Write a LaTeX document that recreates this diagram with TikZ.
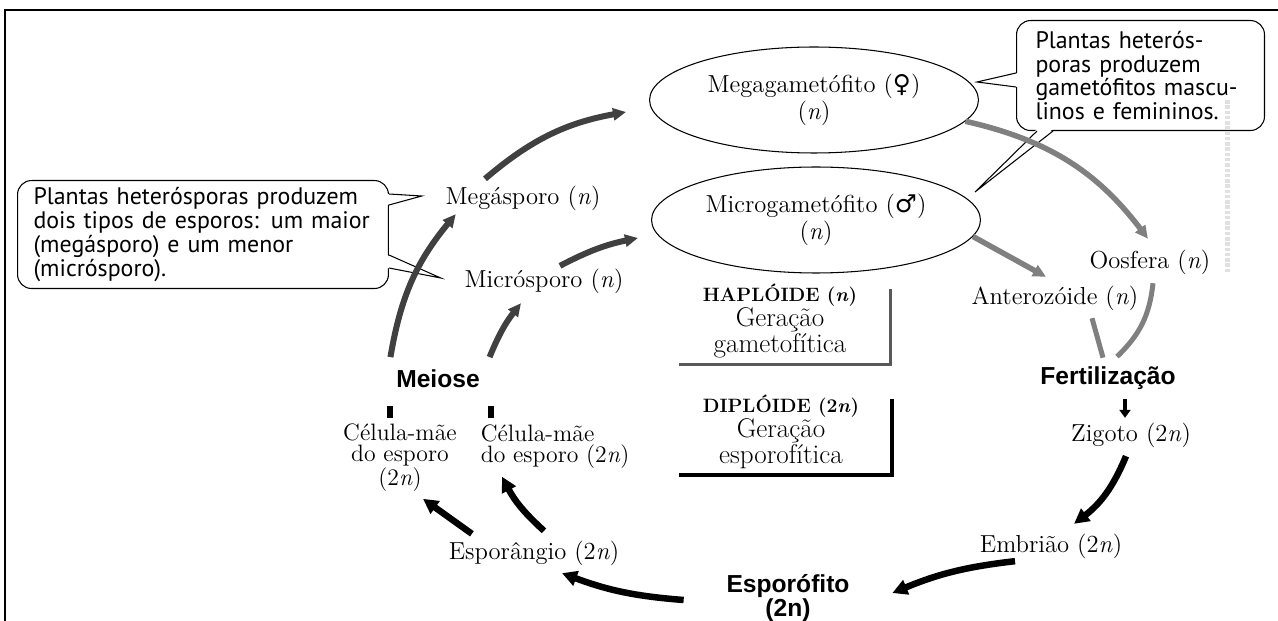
\documentclass[tikz,border=0pt]{standalone}
\usepackage{fontspec}
\setsansfont{PT Sans}
\newfontfamily\headfont{Liberation Sans}
\newfontfamily\symfont{DejaVu Sans}
\usetikzlibrary{arrows.meta,shapes.geometric,calc}

\begin{document}
\begin{tikzpicture}[x=0.02cm, y=-0.02cm,
    lbl/.style={font=\fontsize{14}{12.5}\selectfont, align=center, inner sep=2pt},
    stage/.style={font=\headfont\bfseries\fontsize{14}{12}\selectfont, align=center, inner sep=2pt},
    gamet/.style={ellipse, draw, line width=0.6pt, minimum width=6.58cm, minimum height=2.12cm,
        align=center, inner sep=0pt, font=\fontsize{14}{12.5}\selectfont},
    note/.style={draw, rounded corners=8pt, line width=0.6pt, fill=white, align=left,
        anchor=north west, inner ysep=2pt, font=\sffamily\fontsize{13.6}{13.6}\selectfont},
    gen/.style={align=center, font=\fontsize{15.4}{13.3}\selectfont},
    haparrow/.style={line width=0.12cm, black!75, -{Triangle[length=0.26cm, width=0.24cm]}},
    gamarrow/.style={line width=0.11cm, black!50, -{Triangle[length=0.26cm, width=0.24cm]}},
    diparrow/.style={line width=0.13cm, black, -{Triangle[length=0.3cm, width=0.3cm]}},
]
    \useasboundingbox (0,0) rectangle (1278,621);

    % Frame
    \draw[line width=0.04cm] (5,621) -- (5,10) -- (1278,10);

    % Notes
    \node[note, minimum width=7.42cm, minimum height=2.16cm, inner xsep=0.32cm, text width=6.78cm]
        (lnote) at (17,180) {Plantas heterósporas produzem\\dois tipos de esporos: um maior\\(megásporo) e um menor\\(micrósporo).};
    \node[note, minimum width=4.96cm, minimum height=2.2cm, inner xsep=0.38cm, text width=4.2cm]
        (rnote) at (1016,20) {Plantas heterós-\\poras produzem\\gametófitos mascu-\\linos e femininos.};

    % Gametophytes
    \node[gamet] (megag) at (814,100) {Megagametófito ({\symfont ♀})\\(\textit{n})};
    \node[gamet] (microg) at (816,220) {Microgametófito ({\symfont ♂})\\(\textit{n})};

    % Haploid stages
    \node[lbl] (megasp) at (523,198) {Megásporo (\textit{n})};
    \node[lbl] (microsp) at (544,281) {Micrósporo (\textit{n})};
    \node[lbl] (oosf) at (1150,262) {Oosfera (\textit{n})};
    \node[lbl] (anter) at (1055,298) {Anterozóide (\textit{n})};

    % Diploid stages
    \node[lbl] (zig) at (1131,435) {Zigoto (2\textit{n})};
    \node[lbl] (embr) at (1051,546) {Embrião (2\textit{n})};
    \node[lbl] (esporang) at (534,553) {Esporângio (2\textit{n})};
    \node[lbl, font=\fontsize{13.5}{12}\selectfont] (cel1) at (400,458) {Célula-mãe\\do esporo\\(2\textit{n})};
    \node[lbl, font=\fontsize{13.5}{12}\selectfont, align=left, anchor=west] (cel2) at (477,447) {Célula-mãe\\do esporo (2\textit{n})};

    % Events
    \node[stage] (meiose) at (438,379) {Meiose};
    \node[stage] (fert) at (1108,378) {Fertilização};
    \node[stage] (espf) at (788,598) {Esporófito\\(2n)};

    % Generations
    \node[gen] (hapl) at (780,321) {{\bfseries\fontsize{11}{13.3}\selectfont HAPLÓIDE (\textit{n})}\\Geração\\gametofítica};
    \node[gen] (dipl) at (781,432) {{\bfseries\fontsize{11}{13.3}\selectfont DIPLÓIDE (2\textit{n})}\\Geração\\esporofítica};
    \draw[line width=0.06cm, black!65] ($(hapl.north east)+(27,12)$) -- ($(hapl.south east)+(27,0)$) -- ($(hapl.south west)+(-18,0)$);
    \draw[line width=0.08cm] ($(dipl.north east)+(27,10)$) -- ($(dipl.south east)+(27,0)$) -- ($(dipl.south west)+(-18,0)$);

    % Note pointers
    \coordinate (ltipa) at ($(megasp.west)+(-20,-2)$);
    \coordinate (ltipb) at ($(microsp.west)+(-20,-3)$);
    \fill[white] ($(lnote.north east)+(-2,14)$) -- (ltipa) -- ($(lnote.north east)+(-2,25)$) -- cycle;
    \draw[line width=0.6pt] ($(lnote.north east)+(0,14)$) -- (ltipa) -- ($(lnote.north east)+(0,25)$);
    \fill[white] ($(lnote.north east)+(-2,75)$) -- (ltipb) -- ($(lnote.north east)+(-2,88)$) -- cycle;
    \draw[line width=0.6pt] ($(lnote.north east)+(0,75)$) -- (ltipb) -- ($(lnote.north east)+(0,88)$);
    \coordinate (rtipa) at ($(megag.east)+(-2,-18)$);
    \coordinate (rtipb) at ($(microg.east)+(-6,-28)$);
    \fill[white] ($(rnote.north west)+(2,53)$) -- (rtipa) -- ($(rnote.north west)+(2,67)$) -- cycle;
    \draw[line width=0.6pt] ($(rnote.north west)+(0,53)$) -- (rtipa) -- ($(rnote.north west)+(0,67)$);
    \fill[white] ($(rnote.south west)+(21,-2)$) -- (rtipb) -- ($(rnote.south west)+(37,-2)$) -- cycle;
    \draw[line width=0.6pt] ($(rnote.south west)+(21,0)$) -- (rtipb) -- ($(rnote.south west)+(37,0)$);

    % Meiosis
    \fill (387,406) rectangle (393,418);
    \fill (488,406) rectangle (494,418);
    \draw[haparrow] ($(meiose.north west)+(-2,-9)$) to[bend left=15] ($(megasp.south west)+(14,0)$);
    \draw[haparrow] ($(meiose.north east)+(6,-9)$) to[bend left=8] ($(microsp.south)+(-23,6)$);
    \draw[haparrow] ($(megasp.north)+(-38,-3)$) to[bend left=15] ($(megag.west)+(-23,12)$);
    \draw[haparrow] ($(microsp.north)+(16,1)$) to[bend left=8] ($(microg.west)+(-13,18)$);

    % Gametes and fertilization
    \draw[gamarrow] (megag.-8) to[bend left=20] ($(oosf.north)+(-2,-7)$);
    \draw[gamarrow] (microg.-6) -- ($(anter.north)+(-9,-5)$);
    \draw[line width=0.1cm, black!50] ($(anter.south)+(37,4)$) -- ($(fert.north)+(-5,-5)$);
    \draw[line width=0.1cm, black!50] ($(oosf.south)+(3,5)$) to[bend left=20] ($(fert.north)+(9,-6)$);
    \draw[line width=0.08cm, -{Triangle[length=0.16cm, width=0.22cm]}] ($(fert.south)+(17,6)$) -- ($(zig.north)+(-6,-1)$);

    % Sporophyte
    \draw[diparrow] ($(zig.south)+(-5,5)$) to[bend left=15] ($(embr.north)+(23,-6)$);
    \draw[diparrow] ($(embr.south west)+(39,-1)$) to[bend right=8] ($(espf.east)+(39,-5)$);
    \draw[diparrow] ($(espf.west)+(-39,2)$) to[bend left=8] ($(esporang.south)+(28,4)$);
    \draw[diparrow] ($(esporang.north west)+(27,-3)$) -- ($(cel1.south)+(23,3)$);
    \draw[diparrow] ($(esporang.north)+(10,-6)$) to[bend left=10] ($(cel2.south west)+(25,4)$);

    % Scan mark
    \draw[black!12, line width=0.1cm, dash pattern=on 2pt off 1pt] (1227,100) -- (1227,273);
\end{tikzpicture}
\end{document}
